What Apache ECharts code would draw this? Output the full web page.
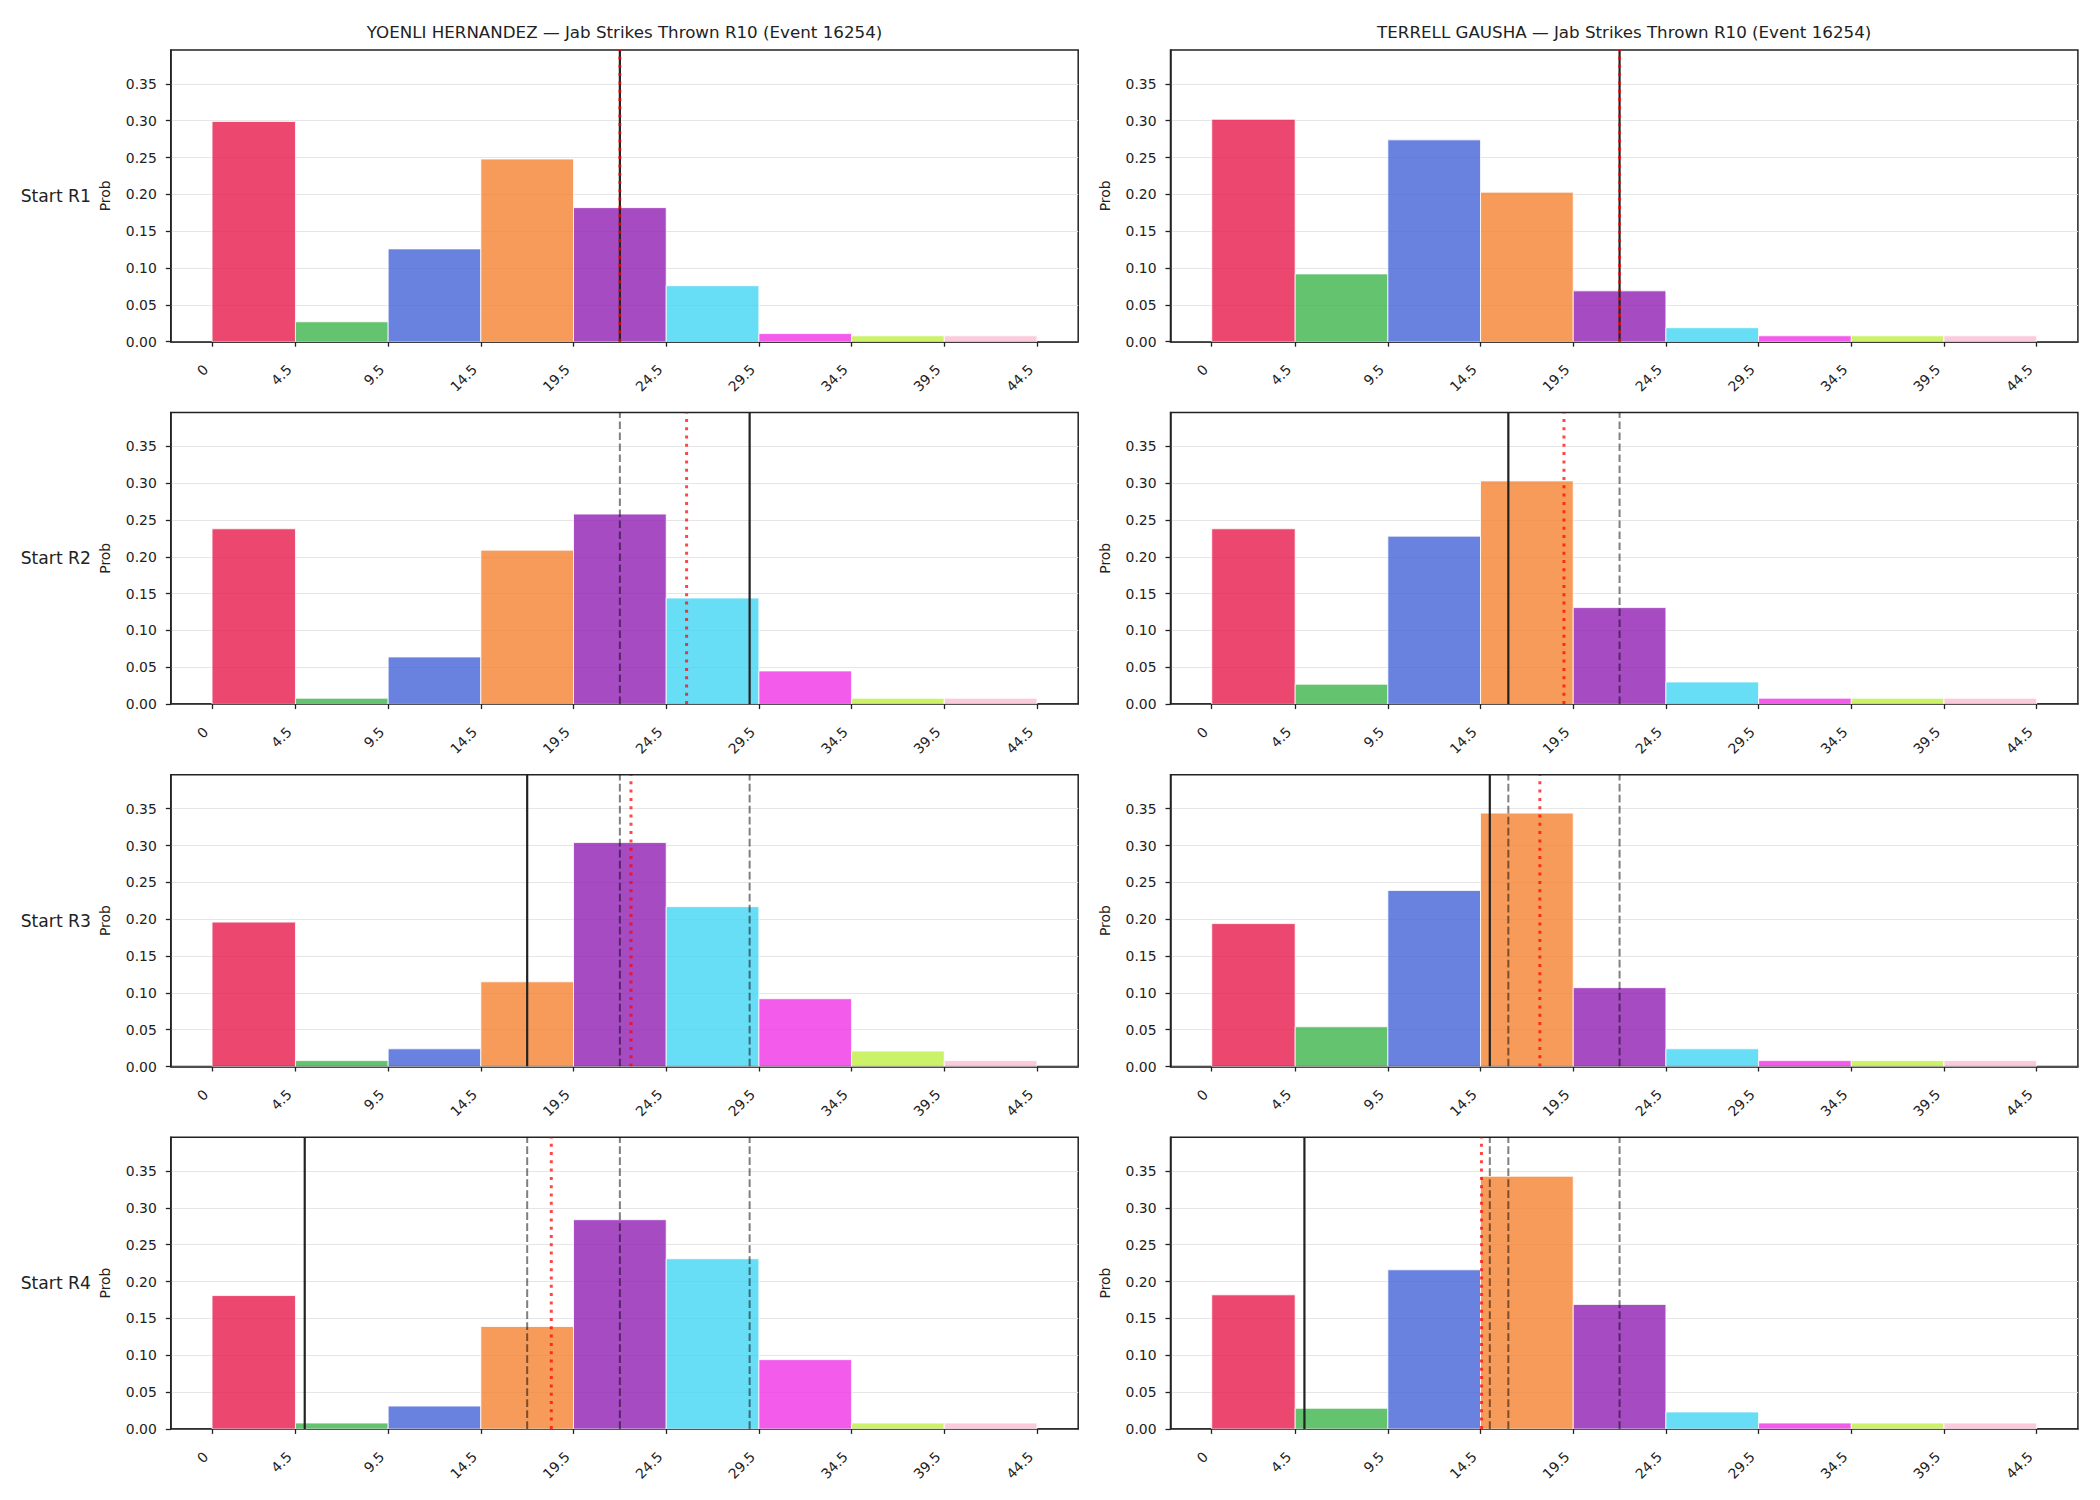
<!DOCTYPE html>
<html>
<head>
<meta charset="utf-8">
<script src="https://cdn.jsdelivr.net/npm/echarts@6/dist/echarts.min.js"></script>
<style>
html,body{margin:0;padding:0;background:#fff;}
#chart{width:2100px;height:1500px;}
</style>
</head>
<body>
<div id="chart"></div>
<script>
// ---------------- DATA ----------------
const binEdges = [0, 4.5, 9.5, 14.5, 19.5, 24.5, 29.5, 34.5, 39.5, 44.5];
const xTickValues = [0, 4.5, 9.5, 14.5, 19.5, 24.5, 29.5, 34.5, 39.5, 44.5];
const yTickValues = [0, 0.05, 0.10, 0.15, 0.20, 0.25, 0.30, 0.35];
const rowLabels = ['Start R1', 'Start R2', 'Start R3', 'Start R4'];
const fighterTitles = [
  'YOENLI HERNANDEZ \u2014 Jab Strikes Thrown R10 (Event 16254)',
  'TERRELL GAUSHA \u2014 Jab Strikes Thrown R10 (Event 16254)'
];
const binColors = ['#e6194b', '#3cb44b', '#4363d8', '#f58231', '#911eb4', '#42d4f4', '#f032e6', '#bfef45', '#fabed4'];

// Probabilities per bin, Hernandez
const hernR1 = [0.299, 0.027, 0.126, 0.248, 0.182, 0.076, 0.011, 0.008, 0.008];
const hernR2 = [0.238, 0.008, 0.064, 0.209, 0.258, 0.144, 0.045, 0.008, 0.008];
const hernR3 = [0.196, 0.008, 0.024, 0.115, 0.304, 0.217, 0.092, 0.021, 0.008];
const hernR4 = [0.181, 0.008, 0.031, 0.139, 0.284, 0.231, 0.094, 0.008, 0.008];
// Probabilities per bin, Gausha
const gauR1 = [0.302, 0.092, 0.274, 0.203, 0.069, 0.019, 0.008, 0.008, 0.008];
const gauR2 = [0.238, 0.027, 0.228, 0.303, 0.131, 0.030, 0.008, 0.008, 0.008];
const gauR3 = [0.194, 0.054, 0.239, 0.344, 0.107, 0.024, 0.008, 0.008, 0.008];
const gauR4 = [0.182, 0.028, 0.216, 0.343, 0.169, 0.023, 0.008, 0.008, 0.008];

// Vertical reference lines (solid black = current, red dotted = mean, gray dashed = earlier rounds)
const hernSolid = [22, 29, 17, 5];
const hernDotted = [22, 25.6, 22.6, 18.3];
const hernDashed = [[], [22], [22, 29], [17, 22, 29]];
const gauSolid = [22, 16, 15, 5];
const gauDotted = [22, 19.0, 17.7, 14.55];
const gauDashed = [[], [22], [16, 22], [15, 16, 22]];

const Y_MAX = 0.396;
const X_MIN = -2.225, X_MAX = 46.725;

// ---------------- LAYOUT ----------------
const colLeft = [170.8, 1170.5];
const colWidth = 907.4;
const rowTop0 = 50, rowStep = 362.4, rowHeight = 291.7;
const FONT = 'DejaVu Sans';
const INK = '#222222';

const panels = [
  {col: 0, row: 0, vals: hernR1, solid: hernSolid[0], dotted: hernDotted[0], dashed: hernDashed[0]},
  {col: 0, row: 1, vals: hernR2, solid: hernSolid[1], dotted: hernDotted[1], dashed: hernDashed[1]},
  {col: 0, row: 2, vals: hernR3, solid: hernSolid[2], dotted: hernDotted[2], dashed: hernDashed[2]},
  {col: 0, row: 3, vals: hernR4, solid: hernSolid[3], dotted: hernDotted[3], dashed: hernDashed[3]},
  {col: 1, row: 0, vals: gauR1, solid: gauSolid[0], dotted: gauDotted[0], dashed: gauDashed[0]},
  {col: 1, row: 1, vals: gauR2, solid: gauSolid[1], dotted: gauDotted[1], dashed: gauDashed[1]},
  {col: 1, row: 2, vals: gauR3, solid: gauSolid[2], dotted: gauDotted[2], dashed: gauDashed[2]},
  {col: 1, row: 3, vals: gauR4, solid: gauSolid[3], dotted: gauDotted[3], dashed: gauDashed[3]}
];

const grids = [], xAxes = [], yAxes = [], series = [];

function barRender(params, api) {
  const x0 = api.value(0), x1 = api.value(1), v = api.value(2), ci = api.value(3);
  const p0 = api.coord([x0, 0]);
  const p1 = api.coord([x1, v]);
  return {
    type: 'rect',
    shape: {x: p0[0], y: p1[1], width: p1[0] - p0[0], height: p0[1] - p1[1]},
    style: {fill: binColors[ci], opacity: 0.8, stroke: '#ffffff', lineWidth: 1}
  };
}
function vlineRender(styleObj) {
  return function (params, api) {
    const x = api.value(0);
    const pb = api.coord([x, 0]);
    const pt = api.coord([x, Y_MAX]);
    return {type: 'line', shape: {x1: pb[0], y1: pb[1], x2: pt[0], y2: pt[1]}, style: Object.assign({fill: null}, styleObj)};
  };
}

panels.forEach((p, i) => {
  grids.push({
    left: colLeft[p.col], top: rowTop0 + p.row * rowStep, width: colWidth, height: rowHeight,
    show: true, borderColor: INK, borderWidth: 1.5, backgroundColor: 'transparent', containLabel: false
  });
  xAxes.push({
    type: 'value', gridIndex: i, min: X_MIN, max: X_MAX,
    axisLine: {show: true, onZero: false, lineStyle: {color: INK, width: 1.5}},
    axisTick: {show: true, length: 5, lineStyle: {color: INK, width: 1.3}, customValues: xTickValues},
    axisLabel: {show: true, rotate: 45, margin: 19, padding: [0, 9, 0, 0], fontFamily: FONT, fontSize: 13.9, color: INK,
      customValues: xTickValues, formatter: v => String(v)},
    splitLine: {show: false}
  });
  yAxes.push({
    type: 'value', gridIndex: i, min: 0, max: Y_MAX, interval: 0.05,
    name: 'Prob', nameLocation: 'middle', nameGap: 59,
    nameTextStyle: {fontFamily: FONT, fontSize: 13.9, color: INK},
    axisLine: {show: true, onZero: false, lineStyle: {color: INK, width: 1.5}},
    axisTick: {show: true, length: 5, lineStyle: {color: INK, width: 1.3}, customValues: yTickValues},
    axisLabel: {show: true, margin: 14, fontFamily: FONT, fontSize: 13.9, color: INK,
      customValues: yTickValues, formatter: v => v.toFixed(2)},
    splitLine: {show: true, lineStyle: {color: '#e6e6e6', width: 1}}
  });
  const barData = p.vals.map((v, k) => [binEdges[k], binEdges[k + 1], v, k]);
  series.push({
    type: 'custom', xAxisIndex: i, yAxisIndex: i, renderItem: barRender, clip: true,
    data: barData, encode: {x: [0, 1], y: 2}, silent: true, z: 2
  });
  series.push({
    type: 'custom', xAxisIndex: i, yAxisIndex: i, clip: true, silent: true, z: 3,
    renderItem: vlineRender({stroke: 'rgba(0,0,0,0.5)', lineWidth: 2, lineDash: [7.7, 3.3]}),
    data: p.dashed.map(v => [v]), encode: {x: 0}
  });
  series.push({
    type: 'custom', xAxisIndex: i, yAxisIndex: i, clip: true, silent: true, z: 4,
    renderItem: vlineRender({stroke: '#222222', lineWidth: 2.2}),
    data: [[p.solid]], encode: {x: 0}
  });
  series.push({
    type: 'custom', xAxisIndex: i, yAxisIndex: i, clip: true, silent: true, z: 5,
    renderItem: vlineRender({stroke: 'rgba(255,0,0,0.72)', lineWidth: 3, lineDash: [3, 5.3]}),
    data: [[p.dotted]], encode: {x: 0}
  });
});

const titles = [];
fighterTitles.forEach((t, c) => {
  titles.push({
    text: t, left: colLeft[c] + colWidth / 2, top: 32, textAlign: 'center', textVerticalAlign: 'middle', padding: 0,
    textStyle: {fontFamily: FONT, fontSize: 16.7, fontWeight: 'normal', color: INK}
  });
});
rowLabels.forEach((t, r) => {
  titles.push({
    text: t, left: 91, top: rowTop0 + r * rowStep + rowHeight / 2, textAlign: 'right', textVerticalAlign: 'middle', padding: 0,
    textStyle: {fontFamily: FONT, fontSize: 17.2, fontWeight: 'normal', color: INK}
  });
});

const chart = echarts.init(document.getElementById('chart'), null, {renderer: 'svg'});
chart.setOption({
  backgroundColor: '#ffffff',
  animation: false,
  title: titles,
  grid: grids,
  xAxis: xAxes,
  yAxis: yAxes,
  series: series
});
</script>
</body>
</html>
